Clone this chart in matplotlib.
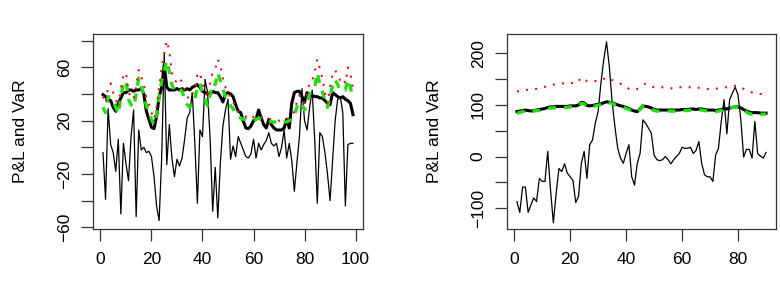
import matplotlib
matplotlib.use("Agg")
import matplotlib.pyplot as plt
import numpy as np

plt.rcParams['font.family'] = ['Liberation Sans', 'DejaVu Sans']

# ---------------- Left panel data ----------------
left_pnl = [-4, -39, 29, 2, -4, -18, 6, -50, 3, -12, -25, 8, 28, -52, 13, -2, 0, -4, -3, -7,
            -22, -44, -55, -8, 70, -13, 17, -8, -22, -9, -14, -8, 6, 22, 26, 41, 3, -42, 13, 8,
            51, 41, 6, -48, -15, -53, -12, 16, 28, 36, -9, 1, -7, 8, 3, -2, -7, -8, -5, 6,
            -8, 3, -2, 2, 5, 11, 3, 1, 3, -7, 0, 13, -8, 3, -10, -33, -12, 8, 44, 20,
            13, 30, 43, 5, -42, 11, 8, -4, -20, -40, -10, 20, 36, 38, 26, -44, 2, 3, 3]
left_var1 = [39.5, 38, 36, 35, 30, 27, 33, 37, 41, 41, 43, 43, 42, 43, 43, 44, 40, 27, 21, 15,
             14, 23, 38, 45, 62, 45, 43, 43, 43, 44, 43, 44, 43, 44, 43, 45, 46, 47, 45, 42,
             41, 40, 40, 42, 41, 41, 38, 34, 40, 41, 40, 38, 32, 27, 26, 19.5, 14.5, 14, 16, 20,
             21, 28, 22, 17, 14.5, 21, 17, 14.5, 13, 13, 13, 14.5, 21, 14.5, 33, 41, 42, 42, 38, 34,
             41, 39.5, 39, 38, 38, 37, 37, 35, 33, 32, 41, 39.5, 38, 37, 38, 36, 35, 33, 24.5]
left_var2 = [30, 26, 38, 37, 34, 30, 25, 38, 48, 50, 36, 32, 30, 40, 52, 45, 40, 31, 27, 21,
             17, 25, 38, 50, 58, 65, 57, 47, 43, 42, 44, 42, 36, 32, 30, 34, 36, 45, 48, 40,
             36, 31, 40, 48, 47, 56, 50, 44, 38, 35, 31, 29, 25, 23, 22, 21, 21, 20, 20, 21,
             21, 22, 21, 20, 20, 20, 19, 19, 19, 18, 18, 19, 19, 20, 21, 24, 30, 34, 32, 28,
             34, 40, 42, 45, 56, 47, 42, 35, 30, 38, 46, 51, 47, 43, 44, 43, 51, 45, 36]
left_var3 = [38, 33, 45, 48, 41, 36, 30, 44, 54, 56, 42, 37, 36, 46, 58, 53, 47, 37, 32, 26,
             21, 30, 45, 60, 70, 80, 72, 56, 50, 49, 52, 49, 43, 38, 36, 40, 43, 55, 56, 47,
             43, 37, 48, 57, 59, 66, 61, 52, 45, 42, 37, 34, 30, 27, 25, 24, 23, 22, 21, 23,
             23, 24, 23, 22, 22, 21, 21, 20, 20, 20, 20, 20, 21, 22, 23, 27, 34, 39, 37, 33,
             40, 49, 50, 57, 66, 59, 52, 41, 33, 45, 55, 58, 54, 50, 52, 48, 60, 55, 44]

# ---------------- Right panel data ----------------
right_pnl = [-87, -108, -59, -59, -108, -93, -80, -87, -42, -48, -48, 10, -65, -128, -71, -23, -29, -14, -32, -39,
             -46, -89, -77, -13, 10, -42, 23, 32, 65, 87, 142, 187, 222, 174, 106, 58, 16, -3, -13, 6,
             23, -39, -55, -13, 6, 71, 64, 55, 45, 3, -6, -8, -6, 0, -6, -14, -6, 0, 6, 18,
             16, 16, 18, 6, 12, 29, -13, -35, -39, -39, -48, 3, 16, 68, 110, 44, 110, 123, 134, 119,
             71, -1, 14, 14, -3, 68, 6, 1, -3, 8]
right_var1 = [87, 88, 89, 90, 89, 88, 89, 90, 91, 92, 93, 95, 96, 96, 97, 97, 97, 97, 97, 98,
              98, 98, 100, 105, 104, 99, 98, 99, 100, 101, 102, 104, 106, 105, 104, 102, 100, 98, 97, 95,
              93, 90, 88, 87, 92, 98, 97, 96, 94, 91, 90, 90, 90, 90, 90, 90, 90, 90, 90, 91,
              91, 91, 92, 92, 91, 92, 92, 91, 90, 90, 90, 89, 90, 91, 93, 92, 94, 95, 96, 96,
              94, 91, 88, 86, 85, 85, 85, 84, 84, 84]
right_var2 = [84, 85, 87, 88, 87, 86, 88, 89, 89, 91, 92, 93, 94, 94, 95, 95, 95, 95, 95, 96,
              96, 96, 98, 103, 102, 97, 96, 97, 98, 99, 101, 104, 106, 104, 103, 100, 98, 96, 95, 93,
              91, 88, 86, 86, 91, 97, 96, 94, 92, 89, 88, 88, 88, 88, 88, 88, 88, 88, 88, 89,
              89, 89, 90, 90, 89, 90, 90, 89, 88, 88, 88, 87, 88, 89, 92, 91, 93, 95, 95, 95,
              93, 89, 86, 83, 82, 83, 83, 82, 82, 82]
right_var3 = [126, 127, 128, 129, 129, 130, 130, 131, 132, 133, 135, 136, 137, 139, 140, 141, 141, 142, 143, 143,
              142, 141, 146, 153, 150, 146, 145, 145, 146, 146, 147, 150, 153, 151, 148, 146, 144, 141, 138, 135,
              131, 129, 129, 131, 134, 139, 141, 138, 136, 134, 134, 134, 134, 133, 132, 132, 132, 133, 134, 134,
              134, 134, 134, 134, 134, 133, 132, 132, 131, 130, 130, 131, 132, 133, 134, 134, 135, 136, 137, 137,
              134, 131, 128, 126, 124, 122, 122, 121, 121, 121]

left_yticks = [-60, -40, -20, 0, 20, 40, 60, 80]
left_ylabels = ["\u221260", "", "\u221220", "", "20", "", "60", ""]
left_xticks = [0, 20, 40, 60, 80, 100]
right_yticks = [-100, -50, 0, 50, 100, 150, 200]
right_ylabels = ["\u2212100", "", "0", "", "100", "", "200"]
right_xticks = [0, 20, 40, 60, 80]
ylabel_text = "P&L and VaR"

W, H = 780, 294
fig = plt.figure(figsize=(W / 100, H / 100), dpi=100)


def panel(rect, pnl, v1, v2, v3, xticks, yticks, ylabels, xlim, ylim):
    ax = fig.add_axes(rect)
    x = np.arange(1, len(pnl) + 1)
    ax.plot(x, pnl, color='black', lw=0.9)
    ax.plot(x, v1, color='black', lw=2.2, solid_joinstyle='round')
    ax.plot(x, v2, color='#22dd11', lw=2.4, dashes=(2.4, 2.4))
    ax.plot(x, v3, color='#ee1111', lw=1.5, dashes=(1.0, 3.4))
    ax.set_xlim(*xlim)
    ax.set_ylim(*ylim)
    ax.set_xticks(xticks)
    ax.set_xticklabels([str(t) for t in xticks])
    ax.set_yticks(yticks)
    ax.set_yticklabels(ylabels, rotation=90, va='center')
    ax.tick_params(axis='both', direction='out', length=8.3, width=0.9,
                   labelsize=12.5, color='#333333')
    ax.tick_params(axis='x', pad=8)
    ax.tick_params(axis='y', pad=7)
    for s in ax.spines.values():
        s.set_linewidth(0.9)
        s.set_color('#333333')
    ax.set_ylabel(ylabel_text, fontsize=12.5)
    ax.yaxis.set_label_coords(-0.24, 0.5)
    return ax


panel([93 / W, 1 - 229 / H, 270 / W, 195 / H], left_pnl, left_var1, left_var2, left_var3,
      left_xticks, left_yticks, left_ylabels, (-2.92, 102.92), (-61.3, 85))
panel([507 / W, 1 - 229 / H, 269 / W, 195 / H], right_pnl, right_var1, right_var2, right_var3,
      right_xticks, right_yticks, right_ylabels, (-2.56, 93.56), (-140, 237))

fig.savefig("out.png", dpi=100)
